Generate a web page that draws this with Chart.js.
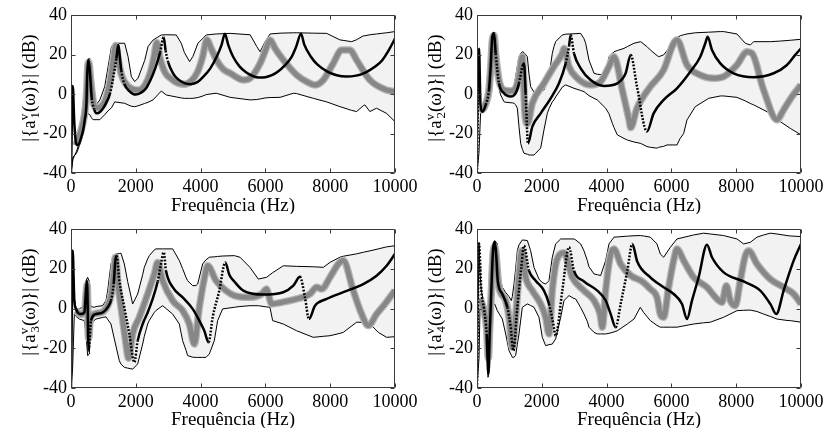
<!DOCTYPE html>
<html><head><meta charset="utf-8">
<script src="https://cdn.jsdelivr.net/npm/chart.js@4.4.0/dist/chart.umd.min.js"></script>
<style>
html,body{margin:0;padding:0;background:#fff;}
#fig{position:relative;width:827px;height:428px;overflow:hidden;background:#fff;}
canvas{position:absolute;}
.ylab{position:absolute;width:170px;height:30px;line-height:30px;text-align:center;font-family:"Liberation Serif","Times New Roman",serif;font-size:19px;color:#000;transform:rotate(-90deg);white-space:nowrap;}
.sp{position:relative;top:-0.55em;font-size:0.68em;}
.sb{position:relative;top:0.3em;font-size:0.68em;margin-left:-0.36em;}
</style></head>
<body>
<div id="fig">
<canvas id="c1" width="420" height="214" style="left:0;top:0"></canvas>
<canvas id="c2" width="421" height="214" style="left:406px;top:0"></canvas>
<canvas id="c3" width="420" height="214" style="left:0;top:214px"></canvas>
<canvas id="c4" width="421" height="214" style="left:406px;top:214px"></canvas>
<div class="ylab" style="left:-56px;top:73px">|{a<span class="sp">v</span><span class="sb">1</span>(ω)}| (dB)</div>
<div class="ylab" style="left:350px;top:73px">|{a<span class="sp">v</span><span class="sb">2</span>(ω)}| (dB)</div>
<div class="ylab" style="left:-56px;top:287px">|{a<span class="sp">v</span><span class="sb">3</span>(ω)}| (dB)</div>
<div class="ylab" style="left:350px;top:287px">|{a<span class="sp">v</span><span class="sb">4</span>(ω)}| (dB)</div>
</div>
<script>
const xTicks = [0, 2000, 4000, 6000, 8000, 10000];
const yTicks = [-40, -20, 0, 20, 40];
const xTitle = 'Frequência (Hz)';

// ---------- Panel 1 ----------
const p1EnvHz = [0,60,170,220,323,426,480,530,580,630,680,740,890,1040,1145,1250,1350,1657,1760,1863,1966,2069,2274,2377,2531,2787,2941,3249,3403,3500,3660,3763,3917,4071,4174,4481,4913,5529,5735,5837,5991,6145,6453,6864,6967,7480,7891,8301,8661,8815,9018,9070,9224,9430,9738,10000];
const p1Upper = [-40,-33,-29,-26.6,-21.6,-13,2,17.2,18,10,-3,-6.4,-3,3.7,13.8,24,25.7,25.7,19,8.8,6.3,8,17,24,27.3,29.9,30,29.9,25.7,21,16.4,19,25.7,28.2,29.9,30.4,30.7,30,24,21.4,26.5,30.4,30.8,31,31,30.8,30.7,27.4,26.5,27.5,29.4,29.5,30,30.4,31,31.6];
const p1Lower = [-40,-32,-30,-28,-23,-16.5,-11,-10,-10.5,-12,-13,-13,-13,-10.5,-8.5,-7,-4,-4.7,-5.5,-6.2,-6.4,-6,-4.8,-4.2,-3,1.5,-0.5,-1.5,-2,-2.2,-2.2,-2.2,-1.8,-1,-0.3,0.4,-1.7,-3,-2.8,-2.5,-2,-1.8,-1.7,0.4,0.2,-2.2,-4,-6.4,-8.3,-8.9,-6,-5.5,-8.9,-7.2,-9.8,-14];
const p1BlackHz = [0,55,100,160,220,323,375,426,478,498,535,580,640,720,800,900,1000,1100,1200,1300,1400,1460,1500,1550,1650,1800,2000,2150,2300,2450,2600,2750,2860,2920,3000,3150,3300,3500,3700,3900,4100,4300,4500,4650,4750,4850,5000,5200,5400,5600,5800,6000,6200,6400,6600,6800,6950,7100,7200,7400,7600,7900,8200,8500,8800,9100,9400,9600,9800,10000];
const p1BlackDb = [-40,4,-14,-25,-26,-21.6,-18.3,-13,-4.6,8.9,17.5,12,-2,-8,-9.8,-9,-7,-4,0,8,18,24.8,20,12,5,1.5,-0.3,0.5,2.5,7,13,21,28.7,22,16,10.5,7.5,5.5,5,6,9,13,19,25,30.5,25,19,14,11,9.2,8.3,8.5,9.5,11.5,14.5,18.5,24,30.5,25,19,15,11.5,9.5,8.8,9.3,11,14,17,22,28];
const p1GrayHz = [150,300,420,480,520,550,600,700,800,1000,1100,1200,1300,1380,1450,1550,1700,1900,2100,2300,2450,2550,2650,2750,2900,3100,3300,3500,3700,3900,4050,4200,4300,4500,4700,4913,5324,5529,5837,6000,6145,6300,6556,6967,7300,7531,7788,8094,8353,8609,8815,9224,9738,10000];
const p1GrayDb = [-26,-19,-10,0,14,16,8,-5,-7,-5,-1,6,17,24.5,18,10,5,2.5,2,5,11,18,26,18,11,7.5,5.5,5,6.5,11,18,27.5,24,17,12.5,10.5,7.1,8,15.5,22,27.4,23,17.2,9.6,6,4.6,7.1,15.5,22.3,22.3,17.2,7.1,2,1.2];

// ---------- Panel 2 ----------
const p2EnvHz = [0,60,110,165,216,268,320,370,420,442,494,525,576,600,627,650,730,833,885,1090,1142,1193,1245,1296,1348,1400,1450,1553,1605,1656,1760,1811,1965,2067,2170,2222,2324,2376,2427,2634,2737,2993,3199,3302,3354,3456,3611,3713,3971,4074,4176,4228,4330,4537,4639,4845,5051,5246,5349,5555,5607,5761,5864,6069,6172,6274,6378,6481,6738,7150,7509,7613,8023,8281,8435,8538,9052,9360,9669,10000];
const p2Upper = [-40,23,-5,-8.5,-7,-5,-1,3.7,15,29,31,31.2,31,28,20,17,5.4,0.5,-0.5,0.4,4,8.8,14,18.9,20.5,21.4,21,18.9,10,3.7,1,0.4,1.5,2,6,8.8,20.6,24,26.5,29.9,30.3,30.5,30.7,28,25.7,17.2,10.5,10,9.6,18.9,20.5,21.4,22,23.1,24,25.7,26.5,24,22.3,19.5,18.9,19.8,22,26.5,28.5,29.5,30,30.4,31,31.3,31.6,31.6,30.4,25.7,24.8,26.5,26.5,26.8,27.2,27.7];
const p2Lower = [-40,-30,-10,-9,-8,-6,-3,2,8.8,14,24.8,26,24,18,8.8,5,-0.5,-3.9,-4.2,-4.5,-4.7,-5.5,-7.2,-16.5,-25,-28,-30,-30.5,-30.9,-30.9,-30.9,-30,-27.4,-18.2,-9.8,-7.5,-4,-3,-1.5,3.5,4.6,2.9,1.8,1.2,0.5,-0.8,-2.2,-3,-7.2,-10,-14.8,-17,-20.7,-22.5,-23.3,-24.3,-25,-26.6,-27,-27.4,-27,-26.5,-25.8,-25.8,-25.8,-22.4,-20,-13.1,-6.4,-2.2,-1,-1,-1.7,-3.5,-4.8,-5.5,-9.8,-14,-17.4,-20.7];
const p2BlackHz = [0,62,110,165,268,370,422,473,525,576,679,833,1039,1193,1296,1399,1450,1502,1574,1708,1965,2274,2531,2737,2839,2891,2993,3199,3508,3919,4330,4588,4743,4938,5246,5452,5761,6172,6583,6892,7046,7118,7252,7509,7921,8538,9156,9567,9824,10000];
const p2BlackDb = [-40,23,-6,-9,-5.5,2,13.9,29,30.9,20.6,5.4,0.4,-1.3,0.4,5.4,13.9,15.5,0.4,-25,-16.5,-9.8,-2.2,5.4,15.5,24,29.9,20.6,13,7.1,4.1,5.4,10.5,19.8,3.7,-19,-9.8,-3,2.9,11.3,18.9,25.7,29,22.3,15.5,10.5,8.5,10.5,14.7,19.8,23.1];
const p2GrayHz = [110,165,268,370,422,473,525,576,679,833,1039,1193,1296,1400,1430,1480,1560,1708,2067,2376,2634,2685,2839,3096,3508,3817,4074,4228,4485,4691,4743,4938,5349,5761,6069,6172,6481,6892,7304,7613,8023,8332,8487,8847,9258,9464,9721,10000];
const p2GrayDb = [-7,-8,-5,2,13,27,29.5,20,7,2,1.5,3,9,18.9,10,-10,-15,-4.7,5.4,13.9,20.6,23.1,13.9,8,4.6,6.3,13.9,18.9,2,-13,-17,-7.2,3.7,12.2,25.7,27.4,14.7,9.6,8,8.8,14.7,21.4,20.6,2,-13,-8,-1.3,4.6];

// ---------- Panel 3 ----------
const p3EnvHz = [0,50,103,154,257,412,463,514,566,597,617,720,772,977,1080,1132,1234,1337,1492,1543,1646,1749,1903,2058,2212,2263,2366,2417,2572,2623,2829,3138,3343,3446,3549,3600,3755,3857,3909,4063,4166,4269,4423,4526,4680,5040,5215,5524,5781,6038,6141,6223,6552,6964,7478,7788,7993,8301,8404,8816,9021,9227,9484,9741,10000];
const p3Upper = [-40,29.5,5,-0.2,-0.2,1.4,14,15.7,13.6,1.4,1,0.6,1,1.4,4,9,22.4,27.1,27.7,27.8,22.4,13.6,2.3,7.3,17,20.7,25,26.6,29.5,30,30,30,24.1,20,15.7,14,11.5,11.5,12.3,22.4,24.5,25.8,26,26.2,26.4,26.6,25.8,20.7,14.8,15.7,17,18,21.5,21.2,21,20.7,23.2,25.8,26.3,27.5,28.3,29,30,31,31.6];
const p3Lower = [-40,-30,-2.8,-4,-5.3,-6.1,-12.8,-23.7,-22.9,-12,-7.8,-6,-5.3,-4.5,-4.2,-5.5,-7.8,-15.3,-26.3,-28,-29.6,-30,-30.5,-27.9,-17.9,-14,-7.8,-6,-2,-1,1.4,-2.8,-7.8,-16.2,-21,-23.7,-24.5,-24.6,-24.6,-24.6,-24.6,-22.9,-16.2,-6.1,-0.2,0.6,1,1.4,1.4,0.8,0.6,-6.1,-7.8,-11.2,-14.5,-14,-13.7,-12.5,-12,-6.9,-7,-7.8,-12,-14.5,-14.2];
const p3BlackHz = [0,52,100,154,309,412,463,494,545,617,772,977,1132,1234,1317,1368,1409,1492,1646,1800,1955,2058,2212,2366,2520,2675,2777,2860,2932,3138,3446,3755,3960,4114,4248,4372,4577,4762,4886,5040,5318,5935,6552,6861,7067,7221,7345,7530,7890,8404,9021,9432,9741,10000];
const p3BlackDb = [-40,29,5,-0.2,-2.8,-2,9,14,-21.2,-6.1,-2.8,-2,0.6,4,12.3,24.1,26.6,14,0.6,-12.8,-27.1,-16.2,-7.8,-2,4.8,13.6,22.4,28.3,19,10.7,5.6,-0.2,-6.1,-11.2,-17,-4.4,9,23.2,17,13.6,9,7,8.2,11.5,16,5.6,-5.3,1.4,4.8,8.2,12.3,16.5,21.5,27.5];
const p3GrayHz = [150,300,420,470,500,540,600,770,1000,1150,1250,1320,1368,1450,1543,1697,1770,1820,1903,2109,2366,2572,2675,2829,3138,3446,3652,3806,3960,4166,4217,4475,4783,5040,5524,5884,6038,6090,6193,6501,6964,7375,7582,7736,7993,8250,8404,8712,8970,9175,9432,9690,10000];
const p3GrayDb = [-1,-3,-2,8,12,-15,-5,-2.5,-1.5,2,8,18,25.8,12,0.6,-17.9,-25,-22,-12.8,-4.4,7.3,17.4,23.2,14,4,-1.1,-7.8,-17.9,0.6,19,21.5,14,9,6.5,5.6,7.3,9.8,7.3,2.3,3.1,4.8,7.3,10.7,9.8,15.7,22.4,24.1,9,-2.8,-8.6,-2.8,2.3,9];

// ---------- Panel 4 ----------
const p4EnvHz = [0,62,93,134,216,288,340,391,442,473,545,627,679,782,885,988,1059,1090,1142,1193,1245,1296,1399,1553,1656,1759,1913,2016,2119,2222,2324,2427,2583,2685,2839,2993,3045,3199,3302,3405,3456,3611,3713,3817,3971,4074,4228,4330,4640,4845,5040,5143,5349,5555,5658,5761,5966,6172,6687,6995,7201,7613,8023,8230,8435,8641,8847,9052,9258,9567,9669,10000];
const p4Upper = [-40,33.3,18,9,2.3,0,2,5,9,30.8,34.2,32.5,17.4,10.7,8,6,4,6,12.3,20,29.1,32,34.5,34.2,29.1,20.7,14.8,13,12.3,14,25.8,32.5,35,35,35,35,34.5,32.5,29,24.1,21,17.4,17,16.6,24.1,32.5,35.9,36,36.4,36.6,36.7,36.5,35.9,32.5,27.4,25.8,30.8,35,37,37.9,37.5,36.7,35,32.5,33.3,35.9,37,37.9,37.5,36.7,36.5,36.2];
const p4Lower = [-40,-25,-0.2,-1,-2,-12.8,-34.6,-29.6,-1.1,1,2.3,-1.1,-2.5,-5.3,-12.8,-21.2,-23.5,-24.6,-24.5,-23.7,-18,-12.8,0.6,2.3,1.5,0.6,-4.4,-14.5,-18.7,-18.2,-17.9,-15.3,-4.4,4,6.5,5,4.8,0.5,-2.8,-6.5,-9.4,-12,-12.8,-12.8,-12.8,-12.5,-11.8,-11.2,-7.8,-5.3,0.6,-2,-6.1,-8.5,-9.4,-9.4,-9.4,-9.4,-7.8,-7.2,-6.9,-4.4,-1.1,-0.9,-0.8,-1.5,-2.8,-4,-5.3,-6,-6.1,-6.9];
const p4BlackHz = [0,62,134,216,298,350,391,442,494,545,600,640,782,936,1039,1121,1245,1368,1450,1605,1811,2067,2222,2355,2427,2633,2839,2993,3302,3713,3971,4126,4280,4434,4640,4793,4948,5349,5761,6069,6327,6481,6635,6841,7098,7252,7613,8230,8743,9052,9237,9464,9773,10000];
const p4BlackDb = [-40,32.5,9,-0.2,-12.8,-33,-12.8,9,29.1,33.3,25,14,7.3,0.6,-9.4,-21.2,0.6,20.7,31.6,19,14,9,2.3,-7.8,-13.7,9,30.8,19,13.6,9,4,-2.8,-9.4,2.3,19,32.5,23.5,15.7,10.7,7.3,2.3,-5.3,4,15.7,32.1,25.8,18.2,13.6,9,2.3,-2.8,9,24.1,32.5];
const p4GrayHz = [100,216,298,350,391,442,494,545,679,885,988,1090,1193,1296,1378,1502,1708,1965,2119,2222,2324,2459,2680,2941,3302,3611,3796,3868,3971,4126,4228,4434,4743,5102,5349,5555,5658,5761,5915,6069,6172,6378,6687,7098,7406,7561,7695,7818,7972,8126,8281,8384,8641,9052,9464,9773,10000];
const p4GrayDb = [5,-1,-10,-25,-10,8,27,31,10.7,4,-4.4,-19.5,-4.4,17.4,29.1,15.7,9,2.3,-4.4,-12.8,9,24.1,28,15.7,9,4,-2.8,-9.4,9,27.4,29.9,22.4,16.6,13.6,9.8,5.6,-2.8,-4.4,10.7,24.1,29.9,24.1,15.7,10.7,4.8,3.1,11.5,4,1.4,14,26.6,29.1,22.4,14.8,10.7,7.3,2.3];

const FONT = "'Liberation Serif','Times New Roman',serif";
function pts(xs, ys) { return xs.map((x, i) => ({ x: x, y: ys[i] })); }
function dotted(c) {
  const a = c.p0, b = c.p1;
  const dx = Math.abs(b.x - a.x), dy = Math.abs(b.y - a.y);
  return (dx > 2 && dy > 4 * dx) ? [1.8, 1.6] : undefined;
}
const boxPlugin = {
  id: 'matlabBox',
  afterDatasetsDraw(chart) {
    const { ctx, chartArea: { left, right, top, bottom }, scales: { x, y } } = chart;
    ctx.save();
    ctx.strokeStyle = '#3a3a3a';
    ctx.lineWidth = 1;
    ctx.beginPath();
    const L = Math.round(left) + 0.5, R = Math.round(right) - 0.5, T = Math.round(top) + 0.5, B = Math.round(bottom) - 0.5;
    ctx.rect(L, T, R - L, B - T);
    const tl = 4;
    x.ticks.forEach(t => {
      const p = Math.round(x.getPixelForValue(t.value)) + 0.5;
      ctx.moveTo(p, B); ctx.lineTo(p, B - tl);
      ctx.moveTo(p, T); ctx.lineTo(p, T + tl);
    });
    y.ticks.forEach(t => {
      const p = Math.round(y.getPixelForValue(t.value)) + 0.5;
      ctx.moveTo(L, p); ctx.lineTo(L + tl, p);
      ctx.moveTo(R, p); ctx.lineTo(R - tl, p);
    });
    ctx.stroke();
    ctx.restore();
  }
};

function makePanel(id, envHz, upper, lower, bHz, bDb, gHz, gDb, padRight, xHeight) {
  new Chart(document.getElementById(id), {
    type: 'line',
    data: {
      datasets: [
        { data: pts(bHz, bDb), borderColor: '#000', borderWidth: 2.5, pointRadius: 0, cubicInterpolationMode: 'monotone', fill: false, order: 1, segment: { borderDash: dotted } },
        { data: pts(gHz, gDb), borderColor: '#878787', borderWidth: 5, pointRadius: 0, cubicInterpolationMode: 'monotone', fill: false, order: 2 },
        { data: pts(gHz, gDb), borderColor: '#b4b4b4', borderWidth: 7.5, pointRadius: 0, cubicInterpolationMode: 'monotone', fill: false, order: 3 },
        { data: pts(envHz, upper), borderColor: '#000', borderWidth: 1, pointRadius: 0, tension: 0, fill: '+1', backgroundColor: '#f2f2f2', order: 4 },
        { data: pts(envHz, lower), borderColor: '#000', borderWidth: 1, pointRadius: 0, tension: 0, fill: false, order: 5 }
      ]
    },
    options: {
      responsive: false, animation: false, events: [],
      layout: { padding: { left: 0, right: padRight, top: 15, bottom: 0 } },
      plugins: { legend: { display: false }, tooltip: { enabled: false }, filler: { drawTime: 'beforeDatasetsDraw' } },
      scales: {
        x: {
          type: 'linear', min: 0, max: 10000,
          afterBuildTicks: s => { s.ticks = xTicks.map(v => ({ value: v })); },
          afterFit: s => { s.height = xHeight; s.paddingLeft = 0; s.paddingRight = 0; },
          grid: { display: false, drawTicks: false }, border: { display: false },
          ticks: { padding: 3, maxRotation: 0, autoSkip: false, color: '#000', font: { family: FONT, size: 18 }, callback: v => String(v) },
          title: { display: true, text: xTitle, color: '#000', font: { family: FONT, size: 19, lineHeight: 0.8 }, padding: 0 }
        },
        y: {
          type: 'linear', min: -40, max: 40,
          afterBuildTicks: s => { s.ticks = yTicks.map(v => ({ value: v })); },
          afterFit: s => { s.width = 71; s.paddingTop = 0; s.paddingBottom = 0; },
          grid: { display: false, drawTicks: false }, border: { display: false },
          ticks: { padding: 4, color: '#000', font: { family: FONT, size: 18 }, callback: v => String(v) }
        }
      }
    },
    plugins: [boxPlugin]
  });
}

makePanel('c1', p1EnvHz, p1Upper, p1Lower, p1BlackHz, p1BlackDb, p1GrayHz, p1GrayDb, 25, 41);
makePanel('c2', p2EnvHz, p2Upper, p2Lower, p2BlackHz, p2BlackDb, p2GrayHz, p2GrayDb, 26, 41);
makePanel('c3', p3EnvHz, p3Upper, p3Lower, p3BlackHz, p3BlackDb, p3GrayHz, p3GrayDb, 25, 40);
makePanel('c4', p4EnvHz, p4Upper, p4Lower, p4BlackHz, p4BlackDb, p4GrayHz, p4GrayDb, 26, 40);
</script>
</body></html>
